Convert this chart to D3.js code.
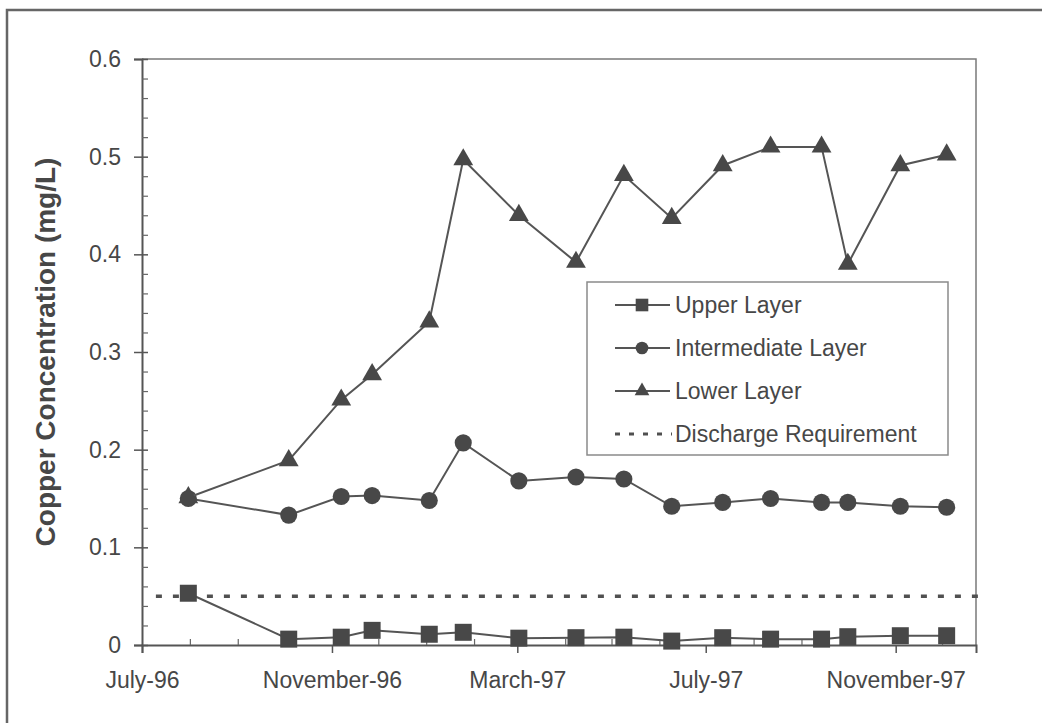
<!DOCTYPE html>
<html>
<head>
<meta charset="utf-8">
<script src="https://cdn.jsdelivr.net/npm/d3@7"></script>
<style>
  html, body { margin: 0; padding: 0; background: #fff; }
  svg { display: block; }
  text { font-family: "Liberation Sans", Arial, Helvetica, sans-serif; fill: #474747; }
</style>
</head>
<body>
<svg id="chart" width="1042" height="723"></svg>
<script>
// Sampling dates (shared by all three layers)
const sampleDates = ["1996-07-31", "1996-10-04", "1996-11-07", "1996-11-27", "1997-01-03",
  "1997-01-25", "1997-03-02", "1997-04-08", "1997-05-09", "1997-06-09", "1997-07-12",
  "1997-08-12", "1997-09-14", "1997-10-01", "1997-11-04", "1997-12-04"];

// Copper concentration (mg/L) by layer
const upperLayer = [0.053, 0.006, 0.008, 0.015, 0.011, 0.013, 0.007, 0.0075, 0.008,
  0.004, 0.0075, 0.006, 0.006, 0.0085, 0.0095, 0.0095];
const intermediateLayer = [0.150, 0.133, 0.152, 0.153, 0.148, 0.207, 0.168, 0.172, 0.170,
  0.142, 0.146, 0.150, 0.146, 0.146, 0.142, 0.141];
const lowerLayer = [0.151, 0.189, 0.251, 0.277, 0.331, 0.497, 0.440, 0.392, 0.481,
  0.437, 0.491, 0.510, 0.510, 0.390, 0.491, 0.502];

// Discharge requirement limit
const requirementDates = ["1996-07-10", "1997-12-29"];
const requirementValue = 0.05;

// Axis ticks
const xTickDates = ["1996-07-01", "1996-11-01", "1997-03-01", "1997-07-01", "1997-11-01"];
const yTicks = [0, 0.1, 0.2, 0.3, 0.4, 0.5, 0.6];
const seriesNames = ["Upper Layer", "Intermediate Layer", "Lower Layer", "Discharge Requirement"];

const parse = d3.utcParse("%Y-%m-%d");
const svg = d3.select("#chart");
const ink = "#484848";

const plotLeft = 142, plotRight = 976, plotTop = 59, plotBottom = 645;
const x = d3.scaleUtc().domain([parse("1996-07-01"), parse("1997-12-23")]).range([plotLeft, plotRight]);
const y = d3.scaleLinear().domain([0, 0.6]).range([plotBottom, plotTop]);

// Outer frame
svg.append("rect").attr("x", 7).attr("y", 10).attr("width", 1100).attr("height", 800)
  .attr("fill", "none").attr("stroke", "#666").attr("stroke-width", 2.5);

// Plot area border (top and right)
svg.append("path")
  .attr("d", `M${plotLeft},${plotTop}H${plotRight}V${plotBottom}`)
  .attr("fill", "none").attr("stroke", "#7a7a7a").attr("stroke-width", 1.5);

// Y axis: major ticks crossing the axis, minor ticks inside
const yAxisG = svg.append("g").attr("transform", `translate(${plotLeft},0)`)
  .call(d3.axisLeft(y).tickValues(yTicks).tickSize(8).tickPadding(13)
    .tickFormat(d => d === 0 ? "0" : d3.format(".1f")(d)));
yAxisG.select(".domain").attr("stroke", "#555").attr("stroke-width", 2);
yAxisG.selectAll(".tick line").attr("stroke", "#555").attr("stroke-width", 1.5).attr("x2", 6).attr("x1", -8);
yAxisG.selectAll(".tick text").attr("font-size", 23).attr("fill", "#474747").attr("x", -21);

const yMinor = d3.range(0, 0.6001, 0.02).filter(v => Math.abs(v * 10 - Math.round(v * 10)) > 1e-6);
svg.append("g").attr("transform", `translate(${plotLeft},0)`)
  .call(d3.axisLeft(y).tickValues(yMinor).tickSize(-6).tickFormat(""))
  .call(g => g.select(".domain").remove())
  .selectAll(".tick line").attr("stroke", "#666").attr("stroke-width", 1.2);

// X axis: major ticks outside with month labels, monthly minor ticks inside
const xMajor = xTickDates.map(parse);
const xAxisG = svg.append("g").attr("transform", `translate(0,${plotBottom})`)
  .call(d3.axisBottom(x).tickValues(xMajor).tickSize(8)
    .tickFormat(d3.utcFormat("%B-%y")));
xAxisG.select(".domain").attr("stroke", "#555").attr("stroke-width", 2);
xAxisG.selectAll(".tick line").attr("stroke", "#555").attr("stroke-width", 1.5);
xAxisG.selectAll(".tick text").attr("font-size", 23).attr("fill", "#474747")
  .attr("y", 43).attr("dy", 0);

const xMinor = d3.utcMonth.range(parse("1996-08-01"), parse("1997-12-23"))
  .filter(d => !xMajor.some(m => +m === +d));
svg.append("g").attr("transform", `translate(0,${plotBottom})`)
  .call(d3.axisBottom(x).tickValues(xMinor).tickSize(-6).tickFormat(""))
  .call(g => g.select(".domain").remove())
  .selectAll(".tick line").attr("stroke", "#666").attr("stroke-width", 1.2);

// Y axis title
svg.append("text")
  .attr("transform", "translate(55,352) rotate(-90)")
  .attr("text-anchor", "middle")
  .attr("font-size", 28).attr("font-weight", "bold").attr("fill", "#474747")
  .text("Copper Concentration (mg/L)");

// Discharge requirement dotted line
const reqData = requirementDates.map(d => ({ date: parse(d), value: requirementValue }));
svg.append("path")
  .datum(reqData)
  .attr("d", d3.line().x(d => x(d.date)).y(d => y(d.value)))
  .attr("fill", "none").attr("stroke", "#505050").attr("stroke-width", 3.5)
  .attr("stroke-dasharray", "6,11");

// Layer series
const series = [
  { name: seriesNames[0], values: upperLayer, symbol: d3.symbolSquare, size: 289 },
  { name: seriesNames[1], values: intermediateLayer, symbol: d3.symbolCircle, size: 230 },
  { name: seriesNames[2], values: lowerLayer, symbol: d3.symbolTriangle, size: 170 }
];
const line = d3.line().x(d => x(d.date)).y(d => y(d.value));

series.forEach(s => {
  const pts = sampleDates.map((d, i) => ({ date: parse(d), value: s.values[i] }));
  const g = svg.append("g");
  g.append("path").datum(pts).attr("d", line)
    .attr("fill", "none").attr("stroke", "#555").attr("stroke-width", 2);
  g.selectAll("path.mark").data(pts).join("path").attr("class", "mark")
    .attr("transform", d => `translate(${x(d.date)},${y(d.value)})`)
    .attr("d", d3.symbol().type(s.symbol).size(s.size))
    .attr("fill", ink);
});

// Legend
const legend = svg.append("g");
legend.append("rect").attr("x", 587).attr("y", 282).attr("width", 361).attr("height", 173)
  .attr("fill", "#fff").attr("stroke", "#8a8a8a").attr("stroke-width", 1.5);
const rowY = [305, 348, 391, 434];
series.forEach((s, i) => {
  const yy = rowY[i];
  legend.append("line").attr("x1", 615).attr("x2", 670).attr("y1", yy).attr("y2", yy)
    .attr("stroke", "#555").attr("stroke-width", 2);
  legend.append("path").attr("transform", `translate(642,${yy})`)
    .attr("d", d3.symbol().type(s.symbol).size(s.size * 0.55)).attr("fill", ink);
  legend.append("text").attr("x", 675).attr("y", yy + 8).attr("font-size", 23).text(s.name);
});
legend.append("line").attr("x1", 615).attr("x2", 672).attr("y1", rowY[3]).attr("y2", rowY[3])
  .attr("stroke", "#505050").attr("stroke-width", 3).attr("stroke-dasharray", "5,9");
legend.append("text").attr("x", 675).attr("y", rowY[3] + 8).attr("font-size", 23).text(seriesNames[3]);
</script>
</body>
</html>
